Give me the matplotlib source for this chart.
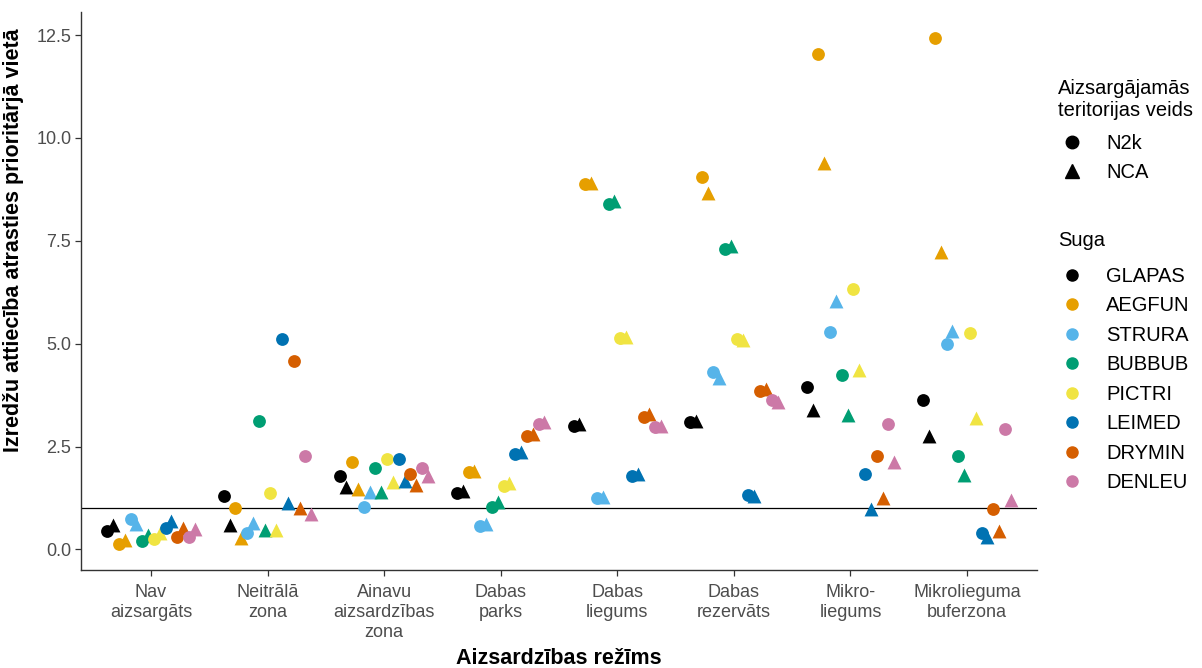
import matplotlib.pyplot as plt
from matplotlib.lines import Line2D
import numpy as np

plt.rcParams['font.family'] = ['Liberation Sans', 'DejaVu Sans']

# categories on the x axis
regimes = ["Nav\naizsargāts", "Neitrālā\nzona", "Ainavu\naizsardzības\nzona",
           "Dabas\nparks", "Dabas\nliegums", "Dabas\nrezervāts",
           "Mikro-\nliegums", "Mikrolieguma\nbuferzona"]

species = ["GLAPAS", "AEGFUN", "STRURA", "BUBBUB", "PICTRI", "LEIMED", "DRYMIN", "DENLEU"]
colors = ["#000000", "#E69F00", "#56B4E9", "#009E73", "#F0E442", "#0072B2", "#D55E00", "#CC79A7"]

# odds ratios, one row per species (same order as species), one value per regime
n2k_values = [
    [0.44, 1.30, 1.78, 1.38, 2.99, 3.09, 3.95, 3.62],
    [0.12, 1.01, 2.12, 1.88, 8.88, 9.05, 12.04, 12.44],
    [0.73, 0.41, 1.04, 0.58, 1.25, 4.32, 5.29, 5.00],
    [0.20, 3.11, 1.98, 1.04, 8.40, 7.31, 4.24, 2.27],
    [0.25, 1.37, 2.20, 1.54, 5.14, 5.12, 6.34, 5.25],
    [0.51, 5.11, 2.20, 2.32, 1.79, 1.33, 1.84, 0.41],
    [0.31, 4.59, 1.83, 2.75, 3.23, 3.86, 2.27, 0.98],
    [0.31, 2.27, 1.98, 3.04, 2.97, 3.62, 3.06, 2.93],
]
nca_values = [
    [0.59, 0.60, 1.52, 1.42, 3.04, 3.11, 3.39, 2.75],
    [0.23, 0.27, 1.47, 1.91, 8.90, 8.66, 9.40, 7.23],
    [0.63, 0.65, 1.40, 0.63, 1.28, 4.17, 6.04, 5.31],
    [0.34, 0.46, 1.40, 1.16, 8.47, 7.38, 3.27, 1.81],
    [0.39, 0.48, 1.64, 1.62, 5.16, 5.09, 4.37, 3.20],
    [0.68, 1.13, 1.66, 2.37, 1.83, 1.30, 0.98, 0.31],
    [0.51, 1.01, 1.57, 2.80, 3.28, 3.90, 1.24, 0.45],
    [0.49, 0.87, 1.79, 3.09, 2.99, 3.59, 2.12, 1.19],
]

W, H = 1202, 668
fig = plt.figure(figsize=(W / 100, H / 100), dpi=100)
ax = fig.add_axes([81 / W, 1 - 570 / H, (1037 - 81) / W, (570 - 12) / H])

x = np.arange(1, len(regimes) + 1)
dodge_width = 0.8
n_groups = len(species) * 2
step = dodge_width / n_groups

ax.axhline(1, color="black", lw=0.9, zorder=1)

for i, (sp, col) in enumerate(zip(species, colors)):
    off_c = -dodge_width / 2 + (2 * i + 0.5) * step
    off_t = -dodge_width / 2 + (2 * i + 1.5) * step
    ax.scatter(x + off_c, n2k_values[i], s=85, marker="o", color=col, linewidths=0, zorder=3)
    ax.scatter(x + off_t, nca_values[i], s=100, marker="^", color=col, linewidths=0, zorder=3)

ax.set_xlim(0.4, 8.6)
ax.set_ylim(-0.5, 13.06)
ax.set_xticks(x)
ax.set_xticklabels(regimes, fontsize=13, color="#4D4D4D", linespacing=1.25)
ax.set_yticks([0, 2.5, 5, 7.5, 10, 12.5])
ax.set_yticklabels(["0.0", "2.5", "5.0", "7.5", "10.0", "12.5"], fontsize=13, color="#4D4D4D")
ax.tick_params(axis="both", length=4, width=0.9, color="#333333", direction="out", pad=3)
ax.tick_params(axis="x", pad=6)

for side in ["top", "right"]:
    ax.spines[side].set_visible(False)
for side in ["left", "bottom"]:
    ax.spines[side].set_linewidth(1.0)
    ax.spines[side].set_color("#333333")

ax.set_xlabel("Aizsardzības režīms", fontsize=15.5, fontweight="bold")
ax.xaxis.set_label_coords(0.5, (570 - 658) / 558, transform=ax.transAxes)
ax.xaxis.label.set_verticalalignment("center")
ax.set_ylabel("Izredžu attiecība atrasties prioritārjā vietā", fontsize=15.5, fontweight="bold")
ax.yaxis.set_label_coords((14 - 81) / 956, (570 - 240) / 558, transform=ax.transAxes)
ax.yaxis.label.set_verticalalignment("center")

# legends: titles as plain text, entries as title-less legends
fig.text(1058 / W, 1 - 88 / H, "Aizsargājamās", fontsize=14.5, va="center", ha="left")
fig.text(1058 / W, 1 - 110 / H, "teritorijas veids", fontsize=14.5, va="center", ha="left")
fig.text(1058 / W, 1 - 241 / H, "Suga", fontsize=14.5, va="center", ha="left")

shape_handles = [
    Line2D([], [], marker="o", linestyle="", color="black", markersize=9),
    Line2D([], [], marker="^", linestyle="", color="black", markersize=10),
]
leg1 = fig.legend(shape_handles, ["N2k", "NCA"],
                  loc="upper left", bbox_to_anchor=(1062 / W, 1 - 134 / H),
                  frameon=False, fontsize=14.5, handletextpad=1.2,
                  labelspacing=0.5, handlelength=1.0, borderpad=0, borderaxespad=0)

sp_handles = [Line2D([], [], marker="o", linestyle="", color=c, markersize=8) for c in colors]
leg2 = fig.legend(sp_handles, species,
                  loc="upper left", bbox_to_anchor=(1062 / W, 1 - 267 / H),
                  frameon=False, fontsize=14.5, handletextpad=1.2,
                  labelspacing=0.52, handlelength=1.0, borderpad=0, borderaxespad=0)

fig.savefig("out.png", dpi=100)
